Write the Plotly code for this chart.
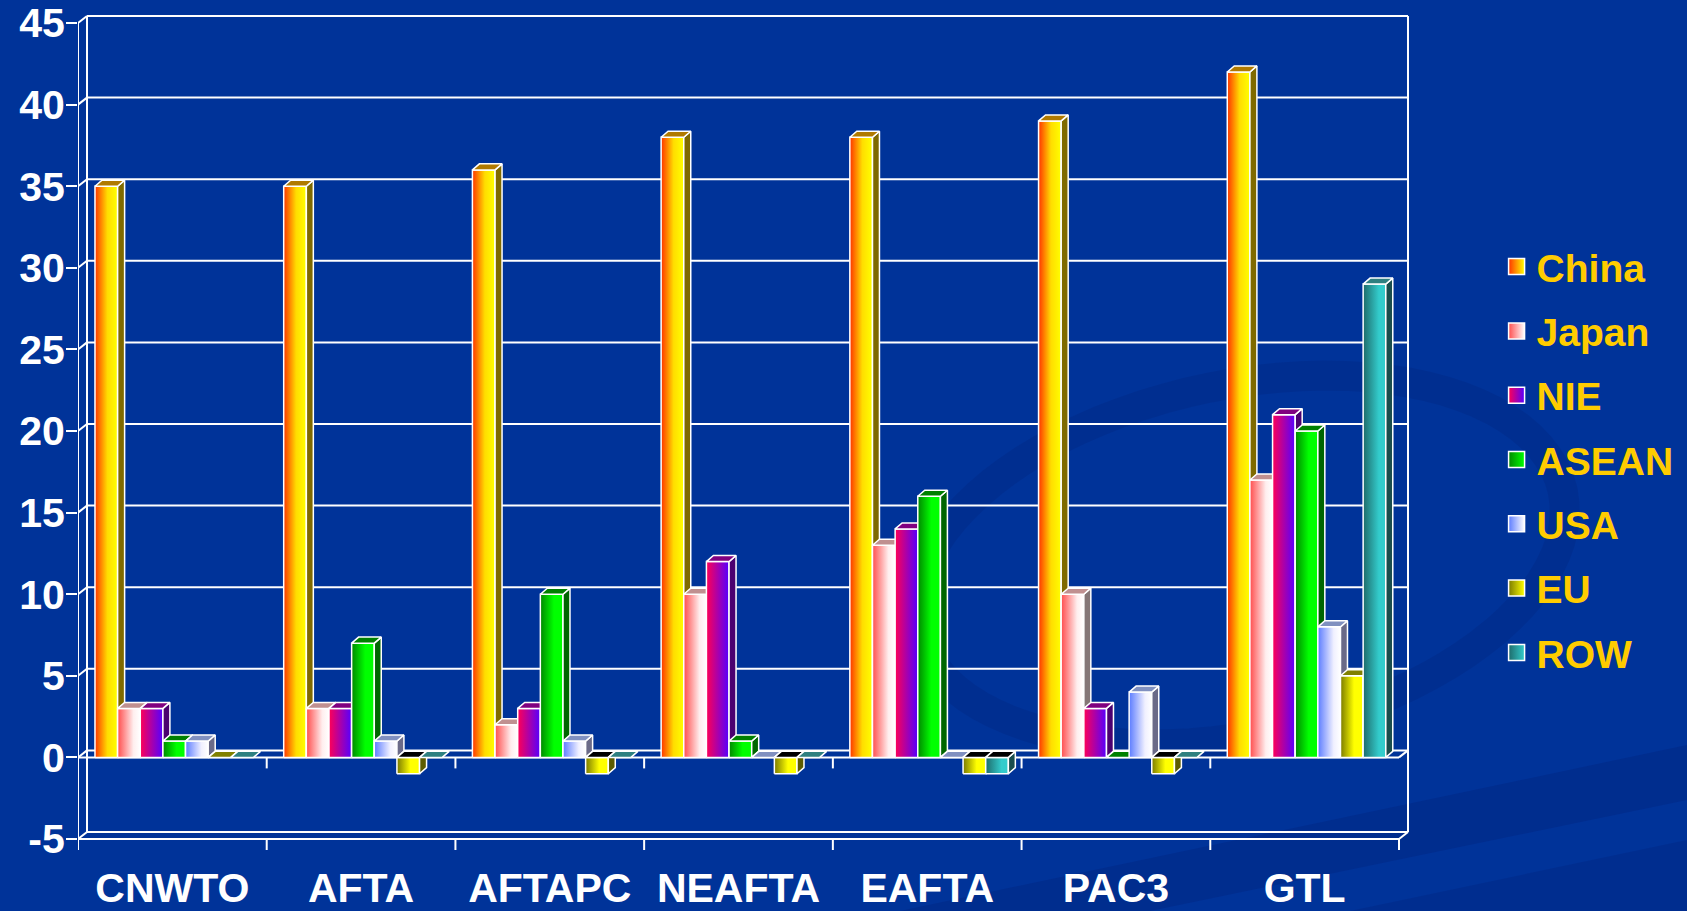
import numpy as np
import plotly.graph_objects as go

# ---------------- data ----------------
categories = ["CNWTO", "AFTA", "AFTAPC", "NEAFTA", "EAFTA", "PAC3", "GTL"]
series_names = ["China", "Japan", "NIE", "ASEAN", "USA", "EU", "ROW"]
china = [35, 35, 36, 38, 38, 39, 42]
japan = [3, 3, 2, 10, 13, 10, 17]
nie = [3, 3, 3, 12, 14, 3, 21]
asean = [1, 7, 10, 1, 16, 0, 20]
usa = [1, 1, 1, 0, 0, 4, 8]
eu = [0, -1, -1, -1, -1, -1, 5]
row = [0, 0, 0, 0, -1, 0, 29]
y_ticks = [-5, 0, 5, 10, 15, 20, 25, 30, 35, 40, 45]
y_tick_labels = ["-5", "0", "5", "10", "15", "20", "25", "30", "35", "40", "45"]

values = [china, japan, nie, asean, usa, eu, row]

# ---------------- styles ----------------
front_scales = [
    [[0, "#FF3300"], [0.55, "#FFDD00"], [1, "#FFFF00"]],
    [[0, "#FF4D4D"], [0.7, "#FFEEEE"], [1, "#FFFFFF"]],
    [[0, "#FF0055"], [1, "#5500FF"]],
    [[0, "#008800"], [0.6, "#00FF00"], [1, "#00FF00"]],
    [[0, "#5C7CFF"], [0.7, "#F0F0FF"], [1, "#FFFFFF"]],
    [[0, "#7A7A00"], [0.6, "#FFFF00"], [1, "#FFFF00"]],
    [[0, "#1E6B6B"], [0.7, "#33CCCC"], [1, "#33CCCC"]],
]
side_colors = ["#7F6A00", "#857575", "#4B0070", "#006600", "#6A6A88", "#5C5C00", "#1A4D4D"]
top_colors = ["#B07A00", "#C09090", "#800080", "#008000", "#8090C0", "#808000", "#2E8080"]

BG = "#003399"
FONT = "Liberation Sans, Arial"

BAR_W = 0.12
GROUP_OFF = -0.41
DXB, DYB = 0.037, 0.37      # bar depth (x in category units, y in value units)
DXW, DYW = 0.0477, 0.429    # wall depth

x_lo, x_hi = -0.5, len(categories) - 0.5
y_min, y_max = -6.287, 45.674

fig = go.Figure()
edge = dict(color="white", width=1.5)

for j in range(len(categories)):
    for i, vals in enumerate(values):
        v = vals[j]
        x0 = j + GROUP_OFF + i * BAR_W
        x1 = x0 + BAR_W
        lo, hi = min(0, v), max(0, v)
        if hi > lo:
            fig.add_trace(go.Scatter(
                x=[x0, x1, x1, x0, x0], y=[lo, lo, hi, hi, lo],
                mode="lines", fill="toself", line=edge,
                fillgradient=dict(type="horizontal", colorscale=front_scales[i]),
                showlegend=False, hoverinfo="skip"))
            fig.add_trace(go.Scatter(
                x=[x1, x1 + DXB, x1 + DXB, x1, x1],
                y=[lo, lo + DYB, hi + DYB, hi, lo],
                mode="lines", fill="toself", line=edge, fillcolor=side_colors[i],
                showlegend=False, hoverinfo="skip"))
        fig.add_trace(go.Scatter(
            x=[x0, x0 + DXB, x1 + DXB, x1, x0],
            y=[hi, hi + DYB, hi + DYB, hi, hi],
            mode="lines", fill="toself", line=edge,
            fillcolor="#000000" if v < 0 else top_colors[i],
            showlegend=False, hoverinfo="skip"))

# legend entries
for i, name in enumerate(series_names):
    sc = front_scales[i]
    fig.add_trace(go.Scatter(
        x=[None], y=[None], mode="markers", name=name, legendgroup=name,
        marker=dict(symbol="square", size=16, color=sc[0][1],
                    gradient=dict(type="horizontal", color=sc[-1][1]),
                    line=dict(color="white", width=1.5)),
        hoverinfo="skip"))

# ---------------- background swirl (decoration, paper coords) ----------------
shapes = []
W_PLOT, H_PLOT, L, B = 1332.0, 848.0, 78.0, 860.0


def to_paper(px, py):
    return (px - L) / W_PLOT, (B - py) / H_PLOT


def path_from(points, close=True):
    s = ""
    for k, (px, py) in enumerate(points):
        u, w = to_paper(px, py)
        s += ("M" if k == 0 else "L") + f"{u:.4f},{w:.4f} "
    return s + ("Z" if close else "")


t = np.linspace(0, 2 * np.pi, 90)
ang = np.deg2rad(-12)
ex = 330 * np.cos(t)
ey = 175 * np.sin(t)
pts = [(1240 + a * np.cos(ang) - b * np.sin(ang), 560 + a * np.sin(ang) + b * np.cos(ang))
       for a, b in zip(ex, ey)]
shapes.append(dict(type="path", xref="paper", yref="paper", path=path_from(pts),
                   line=dict(color="rgba(0,28,110,0.2)", width=30), layer="below"))
shapes.append(dict(type="path", xref="paper", yref="paper",
                   path=path_from([(900, 911), (1687, 745), (1687, 800), (1150, 911)]),
                   fillcolor="rgba(0,28,110,0.25)", line=dict(width=0), layer="below"))
shapes.append(dict(type="path", xref="paper", yref="paper",
                   path=path_from([(1350, 911), (1687, 840), (1687, 911)]),
                   fillcolor="rgba(0,28,110,0.22)", line=dict(width=0), layer="below"))

# ---------------- frame / walls ----------------
wl = dict(color="white", width=2)


def seg(xa, ya, xb, yb):
    shapes.append(dict(type="line", xref="x", yref="y", x0=xa, y0=ya, x1=xb, y1=yb,
                       line=wl, layer="below"))


tick_down = 11 / 16.32
for tv in y_ticks:
    seg(x_lo, tv, x_lo + DXW, tv + DYW)
    seg(x_lo + DXW, tv + DYW, x_hi + DXW, tv + DYW)
seg(x_lo + DXW, y_ticks[0] + DYW, x_lo + DXW, y_ticks[-1] + DYW)
seg(x_hi + DXW, y_ticks[0] + DYW, x_hi + DXW, y_ticks[-1] + DYW)
seg(x_lo, y_ticks[0] - tick_down, x_lo, y_ticks[-1])
for base in (y_ticks[0], 0):
    seg(x_lo, base, x_hi, base)
    seg(x_hi, base, x_hi + DXW, base + DYW)
for k in range(len(categories) + 1):
    b = x_lo + k
    seg(b, y_ticks[0], b, y_ticks[0] - tick_down)
    if 0 < k < len(categories):
        seg(b, 0, b, -tick_down)

fig.update_layout(
    width=1687, height=911,
    margin=dict(l=78, r=277, t=12, b=51, autoexpand=False),
    paper_bgcolor=BG, plot_bgcolor="rgba(0,0,0,0)",
    shapes=shapes,
    showlegend=True,
    legend=dict(x=1.065, xanchor="left", y=0.472, yanchor="middle",
                font=dict(family=FONT, size=39, color="#FFCC00", weight="bold"),
                itemsizing="trace", bgcolor="rgba(0,0,0,0)", traceorder="grouped",
                tracegroupgap=10.6),
    xaxis=dict(range=[x_lo, x_hi + 11 / 188.7], tickvals=list(range(len(categories))),
               ticktext=categories, ticks="", showgrid=False, zeroline=False,
               showline=False, fixedrange=True, automargin=False, tickangle=0,
               ticklabelstandoff=0,
               tickfont=dict(family=FONT, size=41, color="white", weight="bold")),
    yaxis=dict(range=[y_min, y_max], tickvals=y_ticks, ticktext=y_tick_labels,
               ticks="outside", ticklen=11,
               tickwidth=2, tickcolor="white", showgrid=False, zeroline=False,
               showline=False, fixedrange=True, automargin=False,
               ticklabeloverflow="allow", ticklabelstandoff=-7,
               tickfont=dict(family=FONT, size=41, color="white", weight="bold")),
)

fig.write_html("out.html", post_script="document.body.style.margin='0';",
               config={"displayModeBar": False})
